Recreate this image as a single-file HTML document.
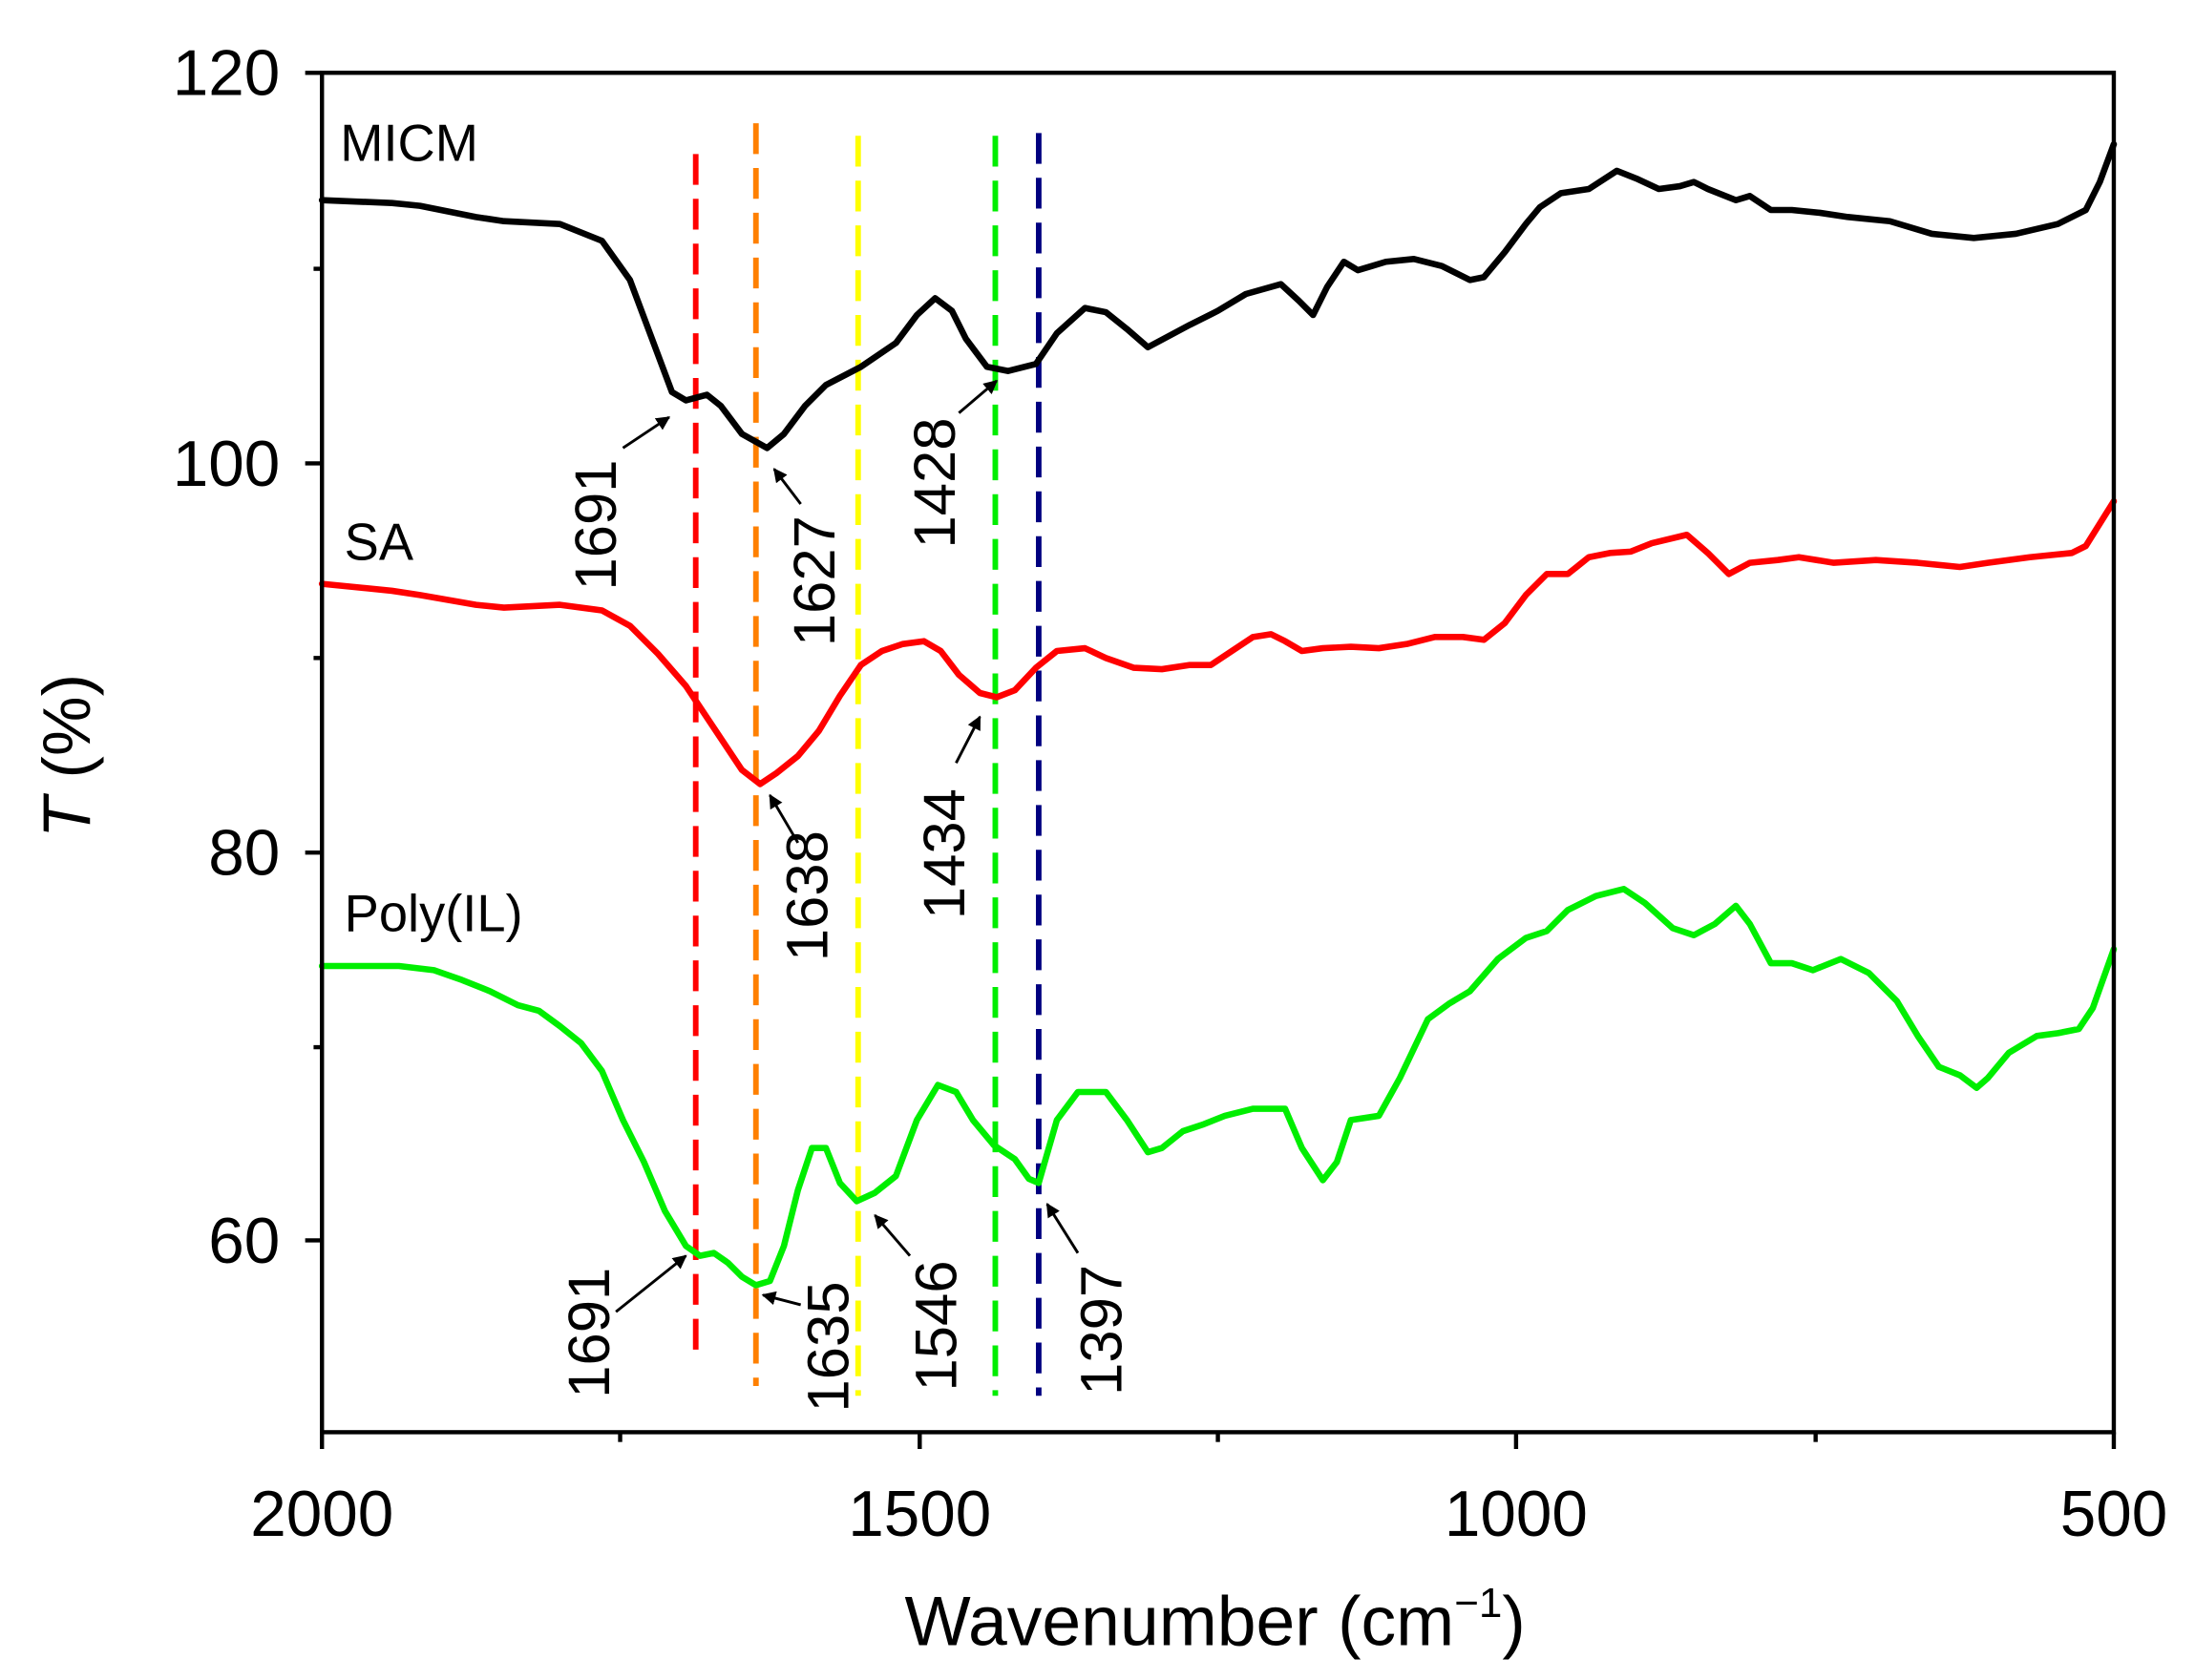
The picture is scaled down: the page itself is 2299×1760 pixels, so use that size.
<!DOCTYPE html>
<html><head><style>html,body{margin:0;padding:0;background:#fff}svg{display:block}</style></head>
<body>
<svg width="2299" height="1760" viewBox="0 0 1568 1200" preserveAspectRatio="none" xmlns="http://www.w3.org/2000/svg" font-family="Liberation Sans, sans-serif">
<defs><marker id="ah" viewBox="0 0 10 10" refX="9" refY="5" markerWidth="5" markerHeight="5" orient="auto"><path d="M0,0L10,5L0,10z" fill="#000"/></marker></defs>
<rect width="1568" height="1200" fill="#fff"/>
<g fill="none" stroke-width="4" stroke-dasharray="22,10">
<line x1="497" y1="110" x2="497" y2="965" stroke="#ff0000"/>
<line x1="540" y1="88" x2="540" y2="990" stroke="#ff8000"/>
<line x1="613" y1="97" x2="613" y2="997" stroke="#ffff00"/>
<line x1="711" y1="97" x2="711" y2="997" stroke="#00ee00"/>
<line x1="742" y1="95" x2="742" y2="997" stroke="#000080"/>
</g>
<g fill="none" stroke-width="4.5" stroke-linejoin="round" stroke-linecap="round">
<polyline stroke="#000" points="230,143 280,145 300,147 340,155 360,158 400,160 430,172 450,200 465,240 480,280 490,286 505,282 515,290 530,310 548,320 560,310 575,290 590,275 615,262 640,245 655,225 668,213 680,222 690,242 705,262 720,265 740,260 755,238 775,220 790,223 805,235 820,248 835,240 850,232 870,222 890,210 915,203 928,215 938,225 948,205 960,187 970,193 980,190 990,187 1010,185 1030,190 1050,200 1060,198 1075,180 1090,160 1100,148 1115,138 1135,135 1155,122 1170,128 1185,135 1200,133 1210,130 1220,135 1240,143 1250,140 1265,150 1280,150 1300,152 1320,155 1350,158 1380,167 1410,170 1440,167 1470,160 1490,150 1500,130 1510,103"/>
<polyline stroke="#ff0000" points="230,417 280,422 300,425 340,432 360,434 400,432 430,436 450,447 470,467 490,490 510,520 530,550 543,560 555,552 570,540 585,522 600,497 615,475 630,465 645,460 660,458 672,465 685,482 700,495 712,498 725,493 740,477 755,465 775,463 790,470 810,477 830,478 850,475 865,475 880,465 895,455 908,453 918,458 930,465 945,463 965,462 985,463 1005,460 1025,455 1045,455 1060,457 1075,445 1090,425 1105,410 1120,410 1135,398 1150,395 1165,394 1180,388 1205,382 1220,395 1235,410 1250,402 1270,400 1285,398 1310,402 1340,400 1370,402 1400,405 1420,402 1450,398 1480,395 1490,390 1510,358"/>
<polyline stroke="#00ee00" points="230,690 285,690 310,693 330,700 350,708 370,718 385,722 400,733 415,745 430,765 445,800 460,830 475,865 490,890 500,897 510,895 520,902 530,912 540,918 550,915 560,890 570,850 580,820 590,820 600,845 612,858 625,852 640,840 655,800 670,775 683,780 695,800 710,818 725,828 735,842 742,845 755,800 770,780 790,780 805,800 820,823 830,820 845,808 860,803 875,797 895,792 918,792 930,820 945,843 955,830 965,800 985,797 1000,770 1020,728 1035,717 1050,708 1070,685 1090,670 1105,665 1120,650 1140,640 1160,635 1175,645 1195,663 1210,668 1225,660 1240,647 1250,660 1265,688 1280,688 1295,693 1315,685 1335,695 1355,715 1370,740 1385,762 1400,768 1412,777 1420,770 1435,752 1455,740 1470,738 1485,735 1495,720 1510,678"/>
</g>
<g stroke="#000" stroke-width="2" marker-end="url(#ah)">
<line x1="445" y1="320" x2="478" y2="298"/>
<line x1="572" y1="360" x2="553" y2="335"/>
<line x1="685" y1="295" x2="712" y2="272"/>
<line x1="570" y1="602" x2="550" y2="568"/>
<line x1="683" y1="545" x2="700" y2="512"/>
<line x1="440" y1="937" x2="490" y2="897"/>
<line x1="572" y1="932" x2="545" y2="925"/>
<line x1="650" y1="897" x2="625" y2="868"/>
<line x1="770" y1="895" x2="748" y2="860"/>
</g>
<g font-size="42" fill="#000" text-anchor="middle">
<text transform="translate(440,375) rotate(-90)">1691</text>
<text transform="translate(596,415) rotate(-90)">1627</text>
<text transform="translate(682,345) rotate(-90)">1428</text>
<text transform="translate(591,640) rotate(-90)">1638</text>
<text transform="translate(689,610) rotate(-90)">1434</text>
<text transform="translate(435,952) rotate(-90)">1691</text>
<text transform="translate(606,962) rotate(-90)">1635</text>
<text transform="translate(683,947) rotate(-90)">1546</text>
<text transform="translate(801,950) rotate(-90)">1397</text>
</g>
<g font-size="37" fill="#000">
<text x="243" y="115">MICM</text>
<text x="246" y="400">SA</text>
<text x="246" y="665">Poly(IL)</text>
</g>
<rect x="230" y="52" width="1280" height="971" fill="none" stroke="#000" stroke-width="3"/>
<g stroke="#000" stroke-width="3">
<line x1="218" y1="52" x2="230" y2="52"/><line x1="218" y1="331" x2="230" y2="331"/><line x1="218" y1="609" x2="230" y2="609"/><line x1="218" y1="886" x2="230" y2="886"/>
<line x1="224" y1="192" x2="230" y2="192"/><line x1="224" y1="470" x2="230" y2="470"/><line x1="224" y1="748" x2="230" y2="748"/>
<line x1="230" y1="1023" x2="230" y2="1035"/><line x1="657" y1="1023" x2="657" y2="1035"/><line x1="1083" y1="1023" x2="1083" y2="1035"/><line x1="1510" y1="1023" x2="1510" y2="1035"/>
<line x1="443" y1="1023" x2="443" y2="1030"/><line x1="870" y1="1023" x2="870" y2="1030"/><line x1="1297" y1="1023" x2="1297" y2="1030"/>
</g>
<g font-size="46" fill="#000">
<g text-anchor="end"><text x="200" y="68">120</text><text x="200" y="347">100</text><text x="200" y="625">80</text><text x="200" y="902">60</text></g>
<g text-anchor="middle"><text x="230" y="1097">2000</text><text x="657" y="1097">1500</text><text x="1083" y="1097">1000</text><text x="1510" y="1097">500</text></g>
<text x="868" y="1175" text-anchor="middle" font-size="50">Wavenumber (cm<tspan font-size="30" dy="-20">−1</tspan><tspan dy="20">)</tspan></text>
<text transform="translate(64,540) rotate(-90)" text-anchor="middle" font-size="48"><tspan font-style="italic">T</tspan> (%)</text>
</g>
</svg>
</body></html>
